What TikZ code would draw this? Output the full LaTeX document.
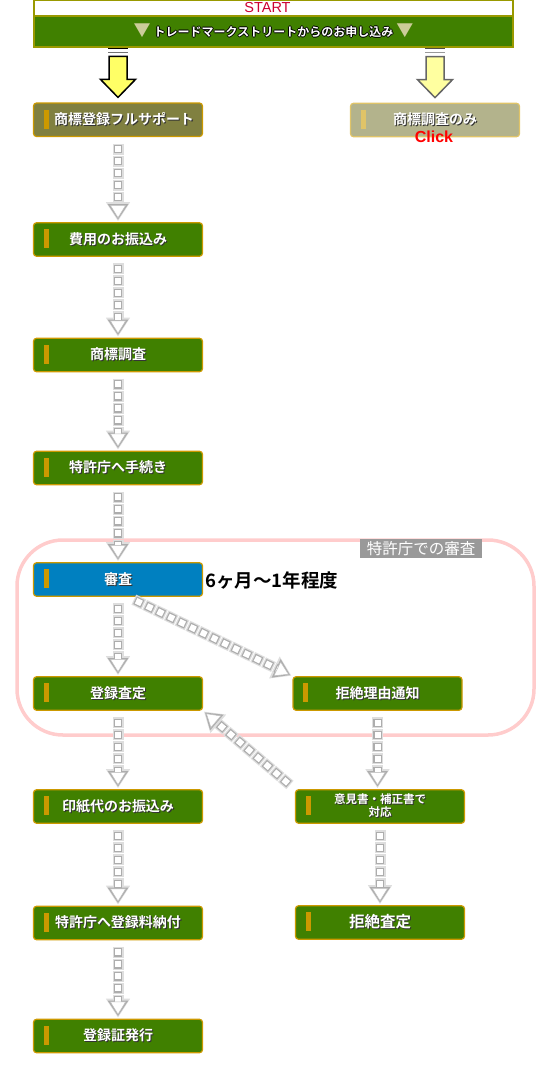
\documentclass[tikz,border=0pt]{standalone}
\usepackage{fontspec}
\setmainfont{Liberation Sans}
\newfontfamily\jp{Noto Sans CJK JP}[BoldFont={Noto Sans CJK JP Bold}]
\usetikzlibrary{arrows.meta}

\definecolor{hdrborder}{HTML}{999900}
\definecolor{leaf}{HTML}{408000}
\definecolor{gold}{HTML}{CC9900}
\definecolor{khaki}{HTML}{808040}
\definecolor{paleolive}{HTML}{B3B38C}
\definecolor{palegold}{HTML}{E0C468}
\definecolor{examblue}{HTML}{0080C0}
\definecolor{pinkline}{HTML}{FFCCCC}
\definecolor{tri}{HTML}{CCCC99}
\definecolor{startred}{HTML}{CC0033}
\definecolor{sunyellow}{HTML}{FFFF66}
\definecolor{paleyellow}{HTML}{FFFFA0}
\colorlet{barfill}{gold}

\newcommand{\shad}[1]{\leavevmode\rlap{\kern1.1pt\raisebox{-1.1pt}{\color{black!80}#1}}#1}
\newcommand{\outl}[1]{\leavevmode\rlap{\kern-1pt\color{black}#1}\rlap{\kern1pt\color{black}#1}%
  \rlap{\raisebox{1pt}{\color{black}#1}}\rlap{\raisebox{-1pt}{\color{black}#1}}#1}

\begin{document}
\begin{tikzpicture}[x=1pt, y=-1pt,
  barcol/.code={\colorlet{barfill}{#1}},
  stepbox/.style={draw=gold, line width=1.2pt, fill=leaf, rounded corners=3pt,
    minimum width=169pt, minimum height=33.5pt, inner sep=0pt, text=white, align=center,
    font=\jp\bfseries\fontsize{14pt}{16pt}\selectfont,
    path picture={\fill[barfill, sharp corners] ([xshift=10pt,yshift=-6.5pt]path picture bounding box.north west) rectangle ++(5pt,-19pt);}},
  flow/.style={white, line width=6pt, dash pattern=on 6pt off 6pt, shorten <=9pt, shorten >=4pt,
    -{Triangle[width=16pt,length=13pt,line width=0.5pt,fill=white,color=black!25]},
    preaction={draw=black!13, line width=11pt, dash pattern=on 11pt off 1pt, shorten <=6.5pt, shorten >=1pt,
      -{Triangle[width=23pt,length=19pt,fill=black!13,color=black!13]}},
    preaction={draw=black!32, line width=8.5pt, dash pattern=on 8.5pt off 3.5pt, shorten <=7.75pt, shorten >=2.5pt,
      -{Triangle[width=19.5pt,length=15.5pt,fill=black!32,color=black!32]}}}]
\useasboundingbox (0,0) rectangle (560,1080);

\node[draw=hdrborder, line width=2pt, fill=white, minimum width=479pt, minimum height=16pt, inner sep=0pt,
  text=startred, font=\fontsize{14.5pt}{15pt}\selectfont] (start) at (273.5,8) {START\hspace*{12pt}};
\node[draw=hdrborder, line width=2pt, fill=leaf, minimum width=479pt, minimum height=31pt, inner sep=0pt,
  text=white, font=\jp\bfseries\fontsize{12pt}{14pt}\selectfont] (title) at (273.5,31.5)
  {{\color{tri}\fontsize{17pt}{17pt}\selectfont ▼}\hspace{3pt}\outl{トレードマークストリートからのお申し込み}\hspace{3pt}{\color{tri}\fontsize{17pt}{17pt}\selectfont ▼}};

\draw[pinkline, line width=3.5pt, rounded corners=46pt] (17,540) rectangle (534,735);
\node[fill=black!40, text=white, minimum width=122pt, minimum height=19pt, inner sep=0pt,
  font=\jp\fontsize{15.5pt}{16pt}\selectfont] (stage) at (421,548.5) {特許庁での審査};

\node[stepbox, fill=khaki] (full) at (118,119.75) {\hspace*{12pt}\shad{商標登録フルサポート}};
\node[stepbox, fill=paleolive, draw=palegold, barcol=palegold] (survey) at (435,120) {\shad{商標調査のみ}};
\node[text=red, font=\bfseries\fontsize{16pt}{16pt}\selectfont, inner sep=0pt] (click) at (434,137) {Click};
\node[stepbox] (pay) at (118,239.5) {\shad{費用のお振込み}};
\node[stepbox] (search) at (118,355) {\shad{商標調査}};
\node[stepbox] (apply) at (118,468) {\shad{特許庁へ手続き}};
\node[stepbox, fill=examblue] (exam) at (118,579.5) {\shad{審査}};
\node[anchor=west, inner sep=0pt, font=\jp\bfseries\fontsize{18.5pt}{19pt}\selectfont] (period) at (205,580) {6ヶ月～1年程度};
\node[stepbox] (grant) at (118,693.5) {\shad{登録査定}};
\node[stepbox] (notice) at (377.5,693.5) {\shad{拒絶理由通知}};
\node[stepbox] (stamp) at (118,806.5) {\shad{印紙代のお振込み}};
\node[stepbox, font=\jp\bfseries\fontsize{11.5pt}{11pt}\selectfont] (opinion) at (380,806.5) {\shad{意見書・補正書で}\\\shad{対応}};
\node[stepbox] (fee) at (118,923) {\shad{特許庁へ登録料納付}};
\node[stepbox, font=\jp\bfseries\fontsize{15.5pt}{16pt}\selectfont] (reject) at (380,922.5) {\shad{拒絶査定}};
\node[stepbox] (cert) at (118,1036) {\shad{登録証発行}};

\begin{scope}[shift={(full.north)}]
  \draw[black, line width=0.7pt] (-10,-54) -- (10,-54);
  \draw[black!55, line width=0.7pt] (-10,-50.5) -- (10,-50.5);
  \filldraw[fill=sunyellow, draw=black, line width=1.5pt] (-9,-46) -- (9,-46) -- (9,-23) -- (17.5,-23) -- (0,-5) -- (-17.5,-23) -- (-9,-23) -- cycle;
\end{scope}
\begin{scope}[shift={(survey.north)}]
  \draw[black!70, line width=0.7pt] (-10,-54) -- (10,-54);
  \draw[black!40, line width=0.7pt] (-10,-50.5) -- (10,-50.5);
  \filldraw[fill=paleyellow, draw=black!60, line width=1.5pt] (-9,-46) -- (9,-46) -- (9,-23) -- (17.5,-23) -- (0,-5) -- (-17.5,-23) -- (-9,-23) -- cycle;
\end{scope}

\draw[flow] (full) -- (pay);
\draw[flow] (pay) -- (search);
\draw[flow] (search) -- (apply);
\draw[flow] (apply) -- (exam);
\draw[flow] (exam) -- (grant);
\draw[flow] ([xshift=10pt]exam.south) -- (notice.north west);
\draw[flow] (grant) -- (stamp);
\draw[flow] (stamp) -- (fee);
\draw[flow] (fee) -- (cert);
\draw[flow] (notice.south) -- (notice.south |- opinion.north);
\draw[flow] (opinion) -- (reject);
\draw[flow] (opinion.north west) -- (grant.south east);
\end{tikzpicture}
\end{document}
